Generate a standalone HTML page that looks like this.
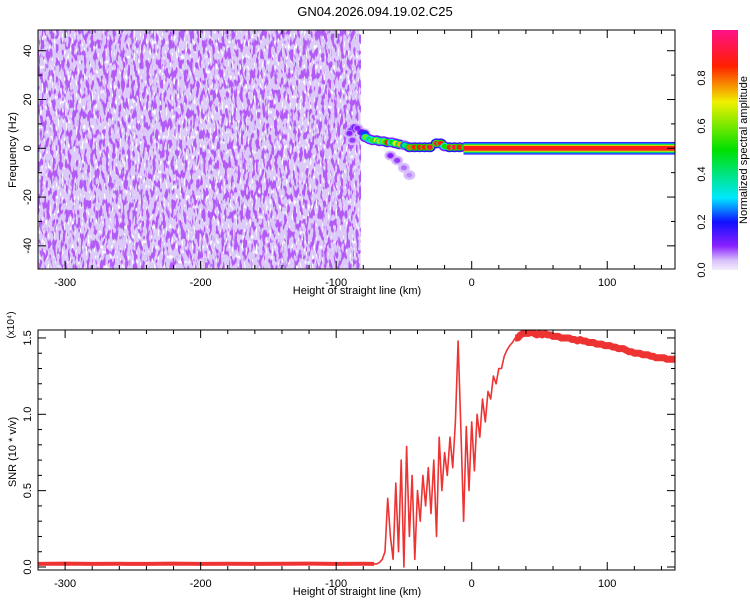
<!DOCTYPE html>
<html><head><meta charset="utf-8"><style>
body{margin:0;background:#fff;}
svg{display:block;font-family:"Liberation Sans",sans-serif;}
</style></head><body>
<svg id="c" width="750" height="600" viewBox="0 0 750 600">
<defs>
<filter id="noise" x="0" y="0" width="1" height="1">
<feTurbulence type="fractalNoise" baseFrequency="0.32 0.1" numOctaves="2" seed="7"/>
<feColorMatrix type="matrix" values="0 0 0 0 0.45  0 0 0 0 0.1  0 0 0 0 0.92  11 0 0 0 -5.6"/>
</filter>
<filter id="noise2" x="0" y="0" width="1" height="1">
<feTurbulence type="fractalNoise" baseFrequency="0.5 0.2" numOctaves="1" seed="3"/>
<feColorMatrix type="matrix" values="0 0 0 0 1  0 0 0 0 1  0 0 0 0 1  8 0 0 0 -4.6"/>
</filter>
<linearGradient id="cb" x1="0" y1="1" x2="0" y2="0">
<stop offset="0" stop-color="#f4ecfd"/>
<stop offset="0.04" stop-color="#d8c0fa"/>
<stop offset="0.1" stop-color="#8a20ff"/>
<stop offset="0.2" stop-color="#1010ff"/>
<stop offset="0.3" stop-color="#00e8ff"/>
<stop offset="0.5" stop-color="#00e000"/>
<stop offset="0.7" stop-color="#f0f000"/>
<stop offset="0.85" stop-color="#ff2000"/>
<stop offset="1" stop-color="#ff1088"/>
</linearGradient>
<clipPath id="topclip"><rect x="38" y="30" width="637" height="239"/></clipPath>
<clipPath id="botclip"><rect x="38" y="330" width="637" height="240"/></clipPath>
</defs>
<text x="375" y="16" font-size="13" text-anchor="middle">GN04.2026.094.19.02.C25</text>
<g id="toppanel"></g>
<g id="botpanel"></g>
<g id="cbar"></g>
</svg>
<script>
// ---- data ----
const xTicks = [-300, -200, -100, 0, 100];
const freqTicks = [-40, -20, 0, 20, 40];
const snrTicks = [0.0, 0.5, 1.0, 1.5];
const cbTicks = [0.0, 0.2, 0.4, 0.6, 0.8];
const blobKm = [-88.7,-86.5,-90.2,-88,-84.3,-81.3,-79.1,-78.3,-75.4,-73.2,-70.2,-68,-65,-62.1,-59.1,-56.2,-53.2,-49.5,-45.8,-42.1,-38.4,-34.7,-31,-25.9,-22.9,-20,-16.3,-12.6,-8.9,-4.4,-60,-55,-50,-46];
const blobHz = [7.3,8.6,6.1,3.3,8.2,6.5,6.1,4.5,3.7,3.3,3.3,2.9,2.9,2.4,2.4,2,1.6,1.2,0.4,0.4,0.4,0.4,0.4,2.0,2.0,0.8,0.4,0.4,0.4,0.4,-3,-5,-8,-11];
const blobAmp = [0.12,0.13,0.1,0.09,0.1,0.15,0.22,0.6,0.5,0.55,0.7,0.65,0.6,0.85,0.5,0.7,0.75,0.4,0.8,0.85,0.85,0.85,0.9,0.9,0.85,0.5,0.9,0.9,0.85,0.8,0.1,0.09,0.07,0.06];
const bandStartKm = -6;
const bandEndKm = 150;
const snrBaseKm = [-320,-300,-280,-260,-240,-220,-200,-180,-160,-140,-120,-100,-80,-72];
const snrBaseVal = [0.02,0.022,0.02,0.021,0.02,0.022,0.02,0.021,0.02,0.021,0.022,0.02,0.021,0.02];
const snrKmStart = -70;
const snrVal = [0.02,0.03,0.05,0.1,0.45,0.2,0.05,0.55,0.1,0.7,0.0,0.79,0.2,0.6,0.05,0.5,0.3,0.6,0.4,0.65,0.35,0.7,0.2,0.85,0.5,0.75,0.6,0.85,0.65,0.95,1.48,0.9,0.3,0.92,0.5,0.95,0.63,1.0,0.85,1.1,0.95,1.15,1.1,1.25,1.2,1.3,1.3,1.38,1.42,1.45,1.47,1.5,1.5,1.52,1.53,1.53,
1.53,1.54,1.53,1.52,1.53,1.52,1.53,1.52,1.52,1.51,
1.51,1.51,1.5,1.5,1.5,1.5,1.49,1.49,1.48,1.49,
1.48,1.48,1.47,1.47,1.47,1.46,1.46,1.46,1.45,1.45,
1.45,1.44,1.44,1.43,1.43,1.43,1.42,1.41,1.41,1.4,
1.4,1.4,1.39,1.39,1.39,1.38,1.38,1.37,1.37,1.37,1.37,1.36,1.36,1.36,1.36];
const snrStep = 2;

// ---- helpers ----
const NS = "http://www.w3.org/2000/svg";
function mk(tag, attrs, parent){const e=document.createElementNS(NS,tag);for(const k in attrs)e.setAttribute(k,attrs[k]);parent.appendChild(e);return e;}
const X = km => 38 + (km + 320) / 470 * 637;
const YF = hz => 30 + (48.5 - hz) / 98 * 239;
const YS = v => 567 - v * 152.7;
const YC = a => 270 - a * 240;
const cmapStops = [[0,[244,236,253]],[0.04,[216,192,250]],[0.1,[138,32,255]],[0.2,[16,16,255]],[0.3,[0,232,255]],[0.5,[0,224,0]],[0.7,[240,240,0]],[0.85,[255,32,0]],[1,[255,16,136]]];
function cmap(a){for(let i=1;i<cmapStops.length;i++){const p0=cmapStops[i-1][0],c0=cmapStops[i-1][1],p1=cmapStops[i][0],c1=cmapStops[i][1];if(a<=p1){const t=(a-p0)/(p1-p0);return 'rgb('+c0.map((c,j)=>Math.round(c+(c1[j]-c)*t)).join(',')+')';}}return 'rgb(255,16,136)';}

function axes(g, y0, y1, yTicks, yFn, yMinorStep, yFmt){
  const f = mk('rect',{x:38,y:y0,width:637,height:y1-y0,fill:'none',stroke:'#000','stroke-width':1},g);
  
  
  for(let v=-320; v<=150; v+=20){
    const px=X(v), major = v%100===0, len = major?8:4;
    mk('line',{x1:px,y1:y1,x2:px,y2:y1-len,stroke:'#000'},g);
    mk('line',{x1:px,y1:y0,x2:px,y2:y0+len,stroke:'#000'},g);
  }
  xTicks.forEach(v=>{
    const t=mk('text',{x:X(v),y:y1+17,'font-size':11,'text-anchor':'middle'},g);
    t.textContent=String(v);
    
    
  });
  const lo=yTicks[0]-yMinorStep*20, hi=yTicks[yTicks.length-1]+yMinorStep*20;
  for(let k=Math.ceil(lo/yMinorStep);k*yMinorStep<=hi;k++){
    const v=k*yMinorStep, py=yFn(v);
    if(py<y0-0.5||py>y1+0.5)continue;
    const major = yTicks.some(t=>Math.abs(t-v)<1e-9), len=major?8:4;
    mk('line',{x1:38,y1:py,x2:38+len,y2:py,stroke:'#000'},g);
    mk('line',{x1:675,y1:py,x2:675-len,y2:py,stroke:'#000'},g);
  }
  yTicks.forEach(v=>{
    const py=yFn(v);
    const t=mk('text',{x:0,y:0,'font-size':11,'text-anchor':'middle',transform:'translate(31,'+py+') rotate(-90)'},g);
    t.textContent=yFmt(v);
    
    
  });
  const xt=mk('text',{x:357,y:y1+25,'font-size':11,'text-anchor':'middle'},g);
  xt.textContent='Height of straight line (km)';
  
  
}

// ---- top spectrogram ----
const topPanel=document.getElementById('toppanel');
const tg=mk('g',{'clip-path':'url(#topclip)'},topPanel);
const bgRect=mk('rect',{x:38,y:30,width:X(-82)-38,height:239,fill:'#dccbf8'},tg);


const nz2=mk('rect',{x:38,y:30,width:X(-82)-38,height:239,filter:'url(#noise2)'},tg);


const nz=mk('rect',{x:38,y:30,width:X(-82)-38,height:239,filter:'url(#noise)'},tg);


blobKm.forEach((k,i)=>{
  const e=mk('ellipse',{cx:X(k),cy:YF(blobHz[i]),rx:6,ry:5,fill:cmap(Math.max(0.04,blobAmp[i]*0.2))},tg);
  
  
});
blobKm.forEach((k,i)=>{
  const a=blobAmp[i];
  const e1=mk('ellipse',{cx:X(k),cy:YF(blobHz[i]),rx:4.5,ry:3.5,fill:cmap(a*0.6)},tg);
  
  
  const e=mk('ellipse',{cx:X(k),cy:YF(blobHz[i]),rx:3,ry:2.5,fill:cmap(a)},tg);
  
  
});
[[2.6,0.15],[2.2,0.25],[1.8,0.45],[1.4,0.68],[1.0,0.88]].forEach(p=>{
  const hw=p[0],a=p[1];
  const r=mk('rect',{x:X(bandStartKm),y:YF(hw),width:X(bandEndKm)-X(bandStartKm),height:YF(-hw)-YF(hw),fill:cmap(a)},tg);
  
  
});
axes(topPanel,30,269,freqTicks,YF,10,v=>String(v));
const yt1=mk('text',{x:0,y:0,'font-size':11,'text-anchor':'middle',transform:'translate(16,150) rotate(-90)'},topPanel);
yt1.textContent='Frequency (Hz)';



// ---- bottom SNR ----
const botPanel=document.getElementById('botpanel');
const bgp=mk('g',{'clip-path':'url(#botclip)'},botPanel);
const basePts=snrBaseKm.map((k,i)=>X(k).toFixed(1)+','+YS(snrBaseVal[i]).toFixed(1));
const mainPts=snrVal.map((v,i)=>X(snrKmStart+i*snrStep).toFixed(1)+','+YS(v).toFixed(1));
const plateauStart=snrVal.findIndex(v=>v>=1.5);
const thickBase=mk('polyline',{points:basePts.join(' '),fill:'none',stroke:'#ee3333','stroke-width':4},bgp);


const thickTop=mk('polyline',{points:mainPts.slice(plateauStart).join(' '),fill:'none',stroke:'#ee3333','stroke-width':7,'stroke-linejoin':'round'},bgp);


const ln=mk('polyline',{points:basePts.concat(mainPts).join(' '),fill:'none',stroke:'#ee3333','stroke-width':1.6,'stroke-linejoin':'round'},bgp);


axes(botPanel,330,570,snrTicks,YS,0.1,v=>v.toFixed(1));
const yt2=mk('text',{x:0,y:0,'font-size':11,'text-anchor':'middle',transform:'translate(16,452) rotate(-90)'},botPanel);
yt2.textContent='SNR (10 * v/v)';


const sc=mk('text',{x:0,y:0,'font-size':10,'text-anchor':'middle',transform:'translate(14,325) rotate(-90)'},botPanel);
sc.textContent='(x10⁴)';



// ---- colorbar ----
const cbG=document.getElementById('cbar');
const cr=mk('rect',{x:712,y:30,width:26,height:240,fill:'url(#cb)'},cbG);


cbTicks.forEach(v=>{
  const t=mk('text',{x:0,y:0,'font-size':11,'text-anchor':'middle',transform:'translate(705,'+YC(v)+') rotate(-90)'},cbG);
  t.textContent=v.toFixed(1);
  
  
});
const cl=mk('text',{x:0,y:0,'font-size':11,'text-anchor':'middle',transform:'translate(747,150) rotate(-90)'},cbG);
cl.textContent='Normalized spectral amplitude';


</script>
</body></html>
